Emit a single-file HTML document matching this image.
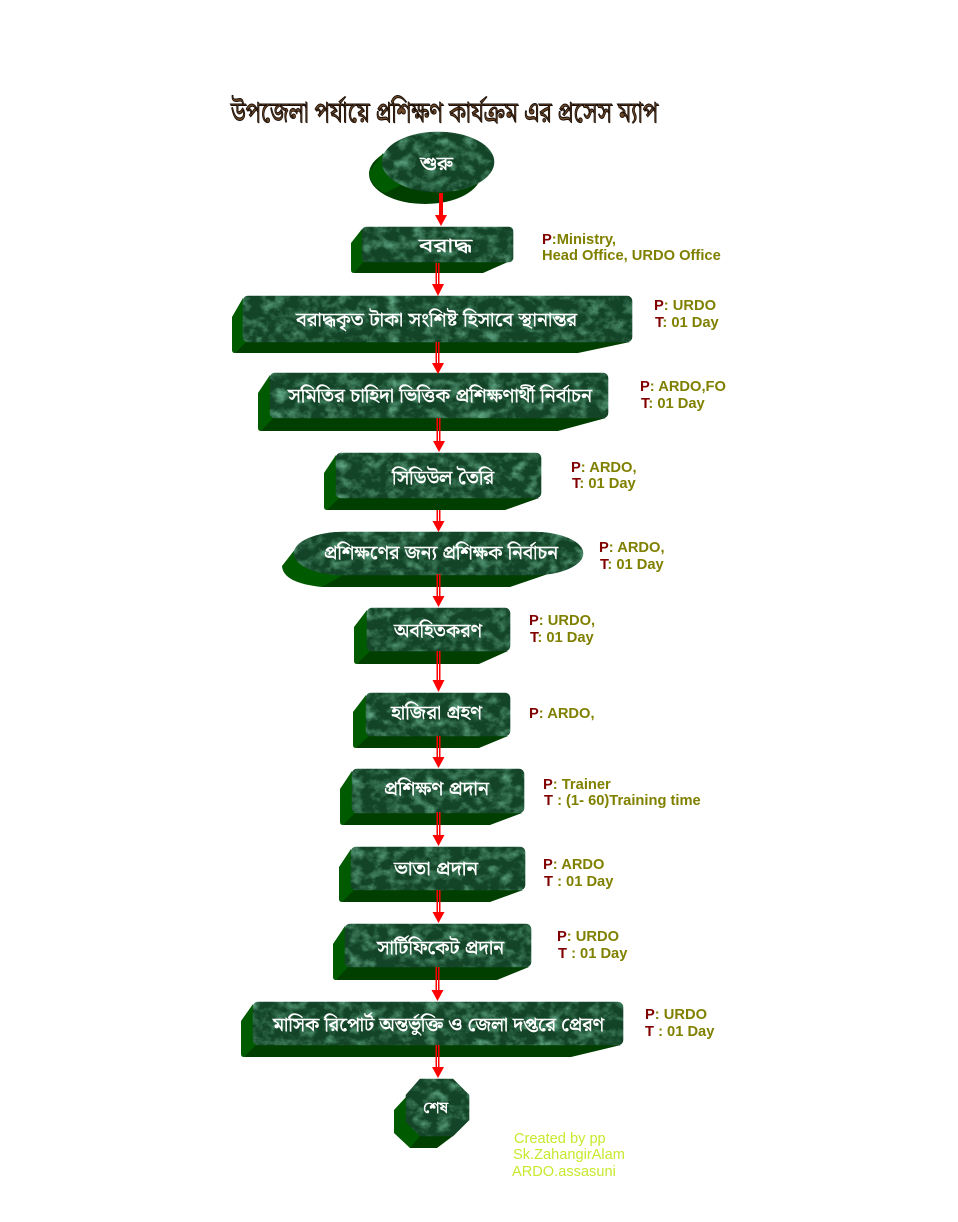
<!DOCTYPE html>
<html><head><meta charset="utf-8"><style>
html,body{margin:0;padding:0;background:#fff;width:958px;height:1222px;overflow:hidden}
svg{display:block}
.b{font-family:"Noto Serif Bengali","Noto Sans Bengali","Lohit Bengali","FreeSerif","FreeSans","Liberation Sans",sans-serif;fill:#fff;stroke:#fff;stroke-width:.4px;font-weight:normal;font-size:19px;text-anchor:start}
.t{font-family:"Noto Serif Bengali","Noto Sans Bengali","Lohit Bengali","FreeSerif","FreeSans","Liberation Sans",sans-serif;fill:#6e4a2a;stroke:#1d1008;stroke-width:1px;font-weight:normal;font-size:29px}
.l{font-family:"Liberation Sans",sans-serif;font-weight:bold;font-size:14.7px;fill:#808000}
.l tspan{fill:#800000}
.c{font-family:"Liberation Sans",sans-serif;font-size:14.6px;fill:#c6ea2e}
.s{fill:#005a00}.d{fill:#003f00}
.f{filter:url(#m);stroke:#7fa592;stroke-width:.6}
.a{stroke:#f00;stroke-width:1.5;fill:none}.h{fill:#f00}
</style></head><body>
<svg width="958" height="1222" viewBox="0 0 958 1222" xmlns="http://www.w3.org/2000/svg">
<defs>
<filter id="m" filterUnits="userSpaceOnUse" x="0" y="0" width="958" height="1222" color-interpolation-filters="sRGB">
<feTurbulence type="fractalNoise" baseFrequency="0.08 0.1" numOctaves="5" seed="7" result="n"/>
<feColorMatrix in="n" type="matrix" values="0 0 0 0 0  0 0 0 0 0  0 0 0 0 0  1.5 1.5 0 0 -1.35" result="a"/>
<feFlood flood-color="#5fa684" result="lt"/>
<feComposite in="lt" in2="a" operator="in" result="v"/>
<feFlood flood-color="#134427" result="bg"/>
<feMerge result="mx"><feMergeNode in="bg"/><feMergeNode in="v"/></feMerge>
<feComposite in="mx" in2="SourceAlpha" operator="in"/>
</filter>
</defs>

<text class="t" x="231" y="122" textLength="427" lengthAdjust="spacingAndGlyphs">উপজেলা পর্যায়ে প্রশিক্ষণ কার্যক্রম এর প্রসেস ম্যাপ</text>

<!-- start -->
<ellipse cx="425" cy="174" rx="56" ry="30" class="d"/>
<polygon points="472,186 438,203 420,170 440,160" class="d"/>
<path d="M383 153 L369 172 Q370 186 385 193 L405 183 Q385 172 383 153Z" class="s"/>
<ellipse cx="438" cy="162" rx="56" ry="30" class="f"/>
<text class="b" x="420" y="170" textLength="33" lengthAdjust="spacingAndGlyphs">শুরু</text>

<!-- 1 -->
<path d="M362 261 H510 L483 273 H354 Z" class="d"/>
<path d="M362 229 L351 243 V270 Q351 273 354 273 L364 261 Z" class="s"/>
<rect x="362" y="227" width="151" height="35" rx="4" class="f"/>
<text class="b" x="419" y="252" textLength="53" lengthAdjust="spacingAndGlyphs">বরাদ্ধ</text>

<!-- 2 -->
<path d="M243 342 H630 L578 353 H235 Z" class="d"/>
<path d="M243 298 L232 317 V350 Q232 353 235 353 L247 341 Z" class="s"/>
<rect x="243" y="296" width="389" height="46" rx="5" class="f"/>
<text class="b" x="296" y="326" textLength="281" lengthAdjust="spacingAndGlyphs">বরাদ্ধকৃত টাকা সংশিষ্ট হিসাবে স্থানান্তর</text>

<!-- 3 -->
<path d="M270 418 H606 L558 431 H261 Z" class="d"/>
<path d="M270 375 L258 393 V428 Q258 431 261 431 L274 417 Z" class="s"/>
<rect x="270" y="373" width="338" height="45" rx="5" class="f"/>
<text class="b" x="288" y="402" textLength="304" lengthAdjust="spacingAndGlyphs">সমিতির চাহিদা ভিত্তিক প্রশিক্ষণার্থী নির্বাচন</text>

<!-- 4 -->
<path d="M336 498 H539 L505 510 H327 Z" class="d"/>
<path d="M336 455 L324 473 V507 Q324 510 327 510 L340 497 Z" class="s"/>
<rect x="336" y="453" width="205" height="45" rx="5" class="f"/>
<text class="b" x="392" y="484" textLength="102" lengthAdjust="spacingAndGlyphs">সিডিউল তৈরি</text>

<!-- 5 terminator -->
<path d="M320 574 H548 L510 587 H322 Z" class="d"/>
<path d="M296 548 L282 566 Q283 583 322 587 L345 574 Q305 572 296 548Z" class="s"/>
<rect x="294" y="532" width="289" height="43" rx="50" ry="21.5" class="f"/>
<text class="b" x="324" y="559" textLength="234" lengthAdjust="spacingAndGlyphs">প্রশিক্ষণের জন্য প্রশিক্ষক নির্বাচন</text>

<!-- 6 -->
<path d="M367 651 H508 L479 664 H357 Z" class="d"/>
<path d="M367 610 L354 627 V661 Q354 664 357 664 L371 650 Z" class="s"/>
<rect x="367" y="608" width="143" height="43" rx="5" class="f"/>
<text class="b" x="394" y="637" textLength="88" lengthAdjust="spacingAndGlyphs">অবহিতকরণ</text>

<!-- 7 -->
<path d="M366 736 H508 L479 748 H356 Z" class="d"/>
<path d="M366 695 L353 712 V745 Q353 748 356 748 L370 735 Z" class="s"/>
<rect x="366" y="693" width="144" height="43" rx="5" class="f"/>
<text class="b" x="391" y="719" textLength="91" lengthAdjust="spacingAndGlyphs">হাজিরা গ্রহণ</text>

<!-- 8 -->
<path d="M352 813 H522 L490 825 H343 Z" class="d"/>
<path d="M352 771 L340 789 V822 Q340 825 343 825 L356 812 Z" class="s"/>
<rect x="352" y="769" width="172" height="44" rx="5" class="f"/>
<text class="b" x="384" y="795" textLength="105" lengthAdjust="spacingAndGlyphs">প্রশিক্ষণ প্রদান</text>

<!-- 9 -->
<path d="M351 890 H523 L490 902 H342 Z" class="d"/>
<path d="M351 849 L339 867 V899 Q339 902 342 902 L355 889 Z" class="s"/>
<rect x="351" y="847" width="174" height="43" rx="5" class="f"/>
<text class="b" x="394" y="875" textLength="84" lengthAdjust="spacingAndGlyphs">ভাতা প্রদান</text>

<!-- 10 -->
<path d="M345 967 H529 L497 980 H336 Z" class="d"/>
<path d="M345 926 L333 944 V977 Q333 980 336 980 L349 966 Z" class="s"/>
<rect x="345" y="924" width="186" height="43" rx="5" class="f"/>
<text class="b" x="377" y="954" textLength="127" lengthAdjust="spacingAndGlyphs">সার্টিফিকেট প্রদান</text>

<!-- 11 -->
<path d="M253 1045 H621 L571 1057 H244 Z" class="d"/>
<path d="M253 1004 L241 1021 V1054 Q241 1057 244 1057 L257 1044 Z" class="s"/>
<rect x="253" y="1002" width="370" height="43" rx="5" class="f"/>
<text class="b" x="273" y="1031" textLength="331" lengthAdjust="spacingAndGlyphs">মাসিক রিপোর্ট অন্তর্ভুক্তি ও জেলা দপ্তরে প্রেরণ</text>

<!-- end -->
<path d="M415 1130 H453 V1136 L437 1148 H410 Z" class="d"/>
<path d="M406 1097 L394 1110 V1133 L410 1148 L420 1136 L406 1122 Z" class="s"/>
<polygon points="420,1079 453,1079 469,1095 469,1120 453,1136 420,1136 406,1122 406,1095" class="f"/>
<text class="b" x="423" y="1113" style="font-size:16px" textLength="25" lengthAdjust="spacingAndGlyphs">শেষ</text>

<!-- arrows -->
<g>
<rect x="439" y="193" width="4" height="22" class="h"/><polygon points="435,215 447,215 441,226" class="h"/>
<path d="M436.250 263V284M438.750 263V284" class="a"/><polygon points="432,284 444,284 438,296" class="h"/>
<path d="M436.250 342V363M438.750 342V363" class="a"/><polygon points="432,363 444,363 438,374" class="h"/>
<path d="M437.250 418V441M439.750 418V441" class="a"/><polygon points="433,441 445,441 439,452" class="h"/>
<path d="M437.250 510V521M439.750 510V521" class="a"/><polygon points="432.500,521 444.500,521 438.500,532" class="h"/>
<path d="M437.250 574V597M439.750 574V597" class="a"/><polygon points="432.500,596 444.500,596 438.500,607" class="h"/>
<path d="M437.250 651V681M439.750 651V681" class="a"/><polygon points="432.500,680 444.500,680 438.500,692" class="h"/>
<path d="M437.250 736V757M439.750 736V757" class="a"/><polygon points="432.500,757 444.500,757 438.500,768" class="h"/>
<path d="M437.250 812V835M439.750 812V835" class="a"/><polygon points="432.500,835 444.500,835 438.500,846" class="h"/>
<path d="M437.250 890V912M439.750 890V912" class="a"/><polygon points="432.500,912 444.500,912 438.500,923" class="h"/>
<path d="M436.250 967V990M438.750 967V990" class="a"/><polygon points="431.500,990 443.500,990 437.500,1001" class="h"/>
<path d="M436.250 1045V1067M438.750 1045V1067" class="a"/><polygon points="432,1067 444,1067 438,1078" class="h"/>
</g>

<!-- labels -->
<text class="l" x="542" y="244"><tspan>P</tspan>:Ministry,</text>
<text class="l" x="542" y="260">Head Office, URDO Office</text>
<text class="l" x="654" y="310"><tspan>P</tspan>: URDO</text>
<text class="l" x="655" y="327"><tspan>T</tspan>: 01 Day</text>
<text class="l" x="640" y="391"><tspan>P</tspan>: ARDO,FO</text>
<text class="l" x="641" y="408"><tspan>T</tspan>: 01 Day</text>
<text class="l" x="571" y="472"><tspan>P</tspan>: ARDO,</text>
<text class="l" x="572" y="488"><tspan>T</tspan>: 01 Day</text>
<text class="l" x="599" y="552"><tspan>P</tspan>: ARDO,</text>
<text class="l" x="600" y="569"><tspan>T</tspan>: 01 Day</text>
<text class="l" x="529" y="625"><tspan>P</tspan>: URDO,</text>
<text class="l" x="530" y="642"><tspan>T</tspan>: 01 Day</text>
<text class="l" x="529" y="718"><tspan>P</tspan>: ARDO,</text>
<text class="l" x="543" y="789"><tspan>P</tspan>: Trainer</text>
<text class="l" x="544" y="805"><tspan>T</tspan> : (1- 60)Training time</text>
<text class="l" x="543" y="869"><tspan>P</tspan>: ARDO</text>
<text class="l" x="544" y="886"><tspan>T</tspan> : 01 Day</text>
<text class="l" x="557" y="941"><tspan>P</tspan>: URDO</text>
<text class="l" x="558" y="958"><tspan>T</tspan> : 01 Day</text>
<text class="l" x="645" y="1019"><tspan>P</tspan>: URDO</text>
<text class="l" x="645" y="1036"><tspan>T</tspan> : 01 Day</text>

<text class="c" x="514" y="1143">Created by pp</text>
<text class="c" x="513" y="1159">Sk.ZahangirAlam</text>
<text class="c" x="512" y="1176">ARDO.assasuni</text>
</svg>
</body></html>
